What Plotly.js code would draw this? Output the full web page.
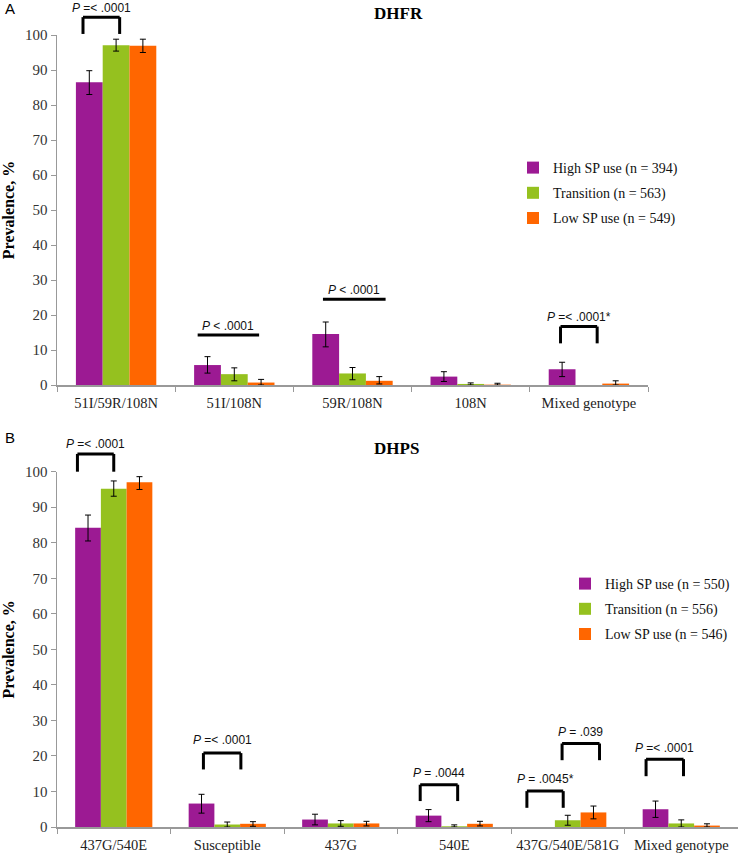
<!DOCTYPE html>
<html>
<head>
<meta charset="utf-8">
<script src="https://cdn.plot.ly/plotly-3.0.1.min.js"></script>
<style>
  html, body { margin: 0; padding: 0; background: #fff; }
  #chart { width: 738px; height: 853px; }
</style>
</head>
<body>
<div id="chart"></div>
<script>
// ---- DHFR (panel A) ----
let dhfrCats = ['51I/59R/108N', '51I/108N', '59R/108N', '108N', 'Mixed genotype'];
let dhfrHigh   = [86.5, 5.7, 14.6, 2.4, 4.5];
let dhfrHighHi = [89.8, 8.1, 18.0, 3.8, 6.5];
let dhfrHighLo = [83.0, 3.4, 10.9, 1.0, 2.4];
let dhfrTrans   = [97.1, 3.1, 3.3, 0.3, null];
let dhfrTransHi = [98.8, 4.9, 5.0, 0.6, null];
let dhfrTransLo = [95.4, 1.2, 1.5, 0.0, null];
let dhfrLow   = [96.9, 0.7, 1.2, 0.1, 0.4];
let dhfrLowHi = [98.8, 1.6, 2.4, 0.5, 1.2];
let dhfrLowLo = [95.0, 0.0, 0.3, 0.0, 0.0];
let dhfrNames = ['High SP use (n = 394)', 'Transition (n = 563)', 'Low SP use (n = 549)'];

// ---- DHPS (panel B) ----
let dhpsCats = ['437G/540E', 'Susceptible', '437G', '540E', '437G/540E/581G', 'Mixed genotype'];
let dhpsHigh   = [84.2, 6.6, 2.1, 3.2, null, 5.0];
let dhpsHighHi = [87.8, 9.2, 3.6, 4.9, null, 7.3];
let dhpsHighLo = [80.5, 3.9, 0.6, 1.5, null, 2.7];
let dhpsTrans   = [95.2, 0.7, 1.0, 0.2, 1.9, 1.0];
let dhpsTransHi = [97.4, 1.4, 1.8, 0.6, 3.3, 2.0];
let dhpsTransLo = [93.1, 0.0, 0.2, 0.0, 0.5, 0.0];
let dhpsLow   = [97.0, 0.9, 1.0, 0.9, 4.1, 0.4];
let dhpsLowHi = [98.6, 1.5, 1.6, 1.6, 5.9, 0.9];
let dhpsLowLo = [95.0, 0.2, 0.3, 0.3, 2.3, 0.0];
let dhpsNames = ['High SP use (n = 550)', 'Transition (n = 556)', 'Low SP use (n = 546)'];

let yTicks = [0, 10, 20, 30, 40, 50, 60, 70, 80, 90, 100];
let yMax = 100;

// significance marks: category index, bracket ends (offset from category centre), height, label
let dhfrMarks = [
    { cat: 0, x0: -0.28, x1: 0.03, y: 105.1, drop: 4.8, label: '<i>P</i> =< .0001', ty: 107.6 },
    { cat: 1, x0: -0.31, x1: 0.21, y: 14.3, drop: 0, label: '<i>P</i> < .0001', ty: 16.9 },
    { cat: 2, x0: -0.25, x1: 0.28, y: 24.5, drop: 0, label: '<i>P</i> < .0001', ty: 27.1 },
    { cat: 4, x0: -0.24, x1: 0.07, y: 16.7, drop: 4.8, label: '<i>P</i> =< .0001*', ty: 19.5 }
];
let dhpsMarks = [
    { cat: 0, x0: -0.32, x1: 0.0, y: 105.0, drop: 5.0, label: '<i>P</i> =< .0001', ty: 107.8 },
    { cat: 1, x0: -0.21, x1: 0.12, y: 20.8, drop: 4.6, label: '<i>P</i> =< .0001', ty: 24.4 },
    { cat: 3, x0: -0.30, x1: 0.03, y: 11.9, drop: 4.6, label: '<i>P</i> = .0044', ty: 15.3 },
    { cat: 4, x0: -0.36, x1: -0.04, y: 10.1, drop: 4.7, label: '<i>P</i> = .0045*', ty: 13.4 },
    { cat: 4, x0: -0.05, x1: 0.28, y: 23.5, drop: 4.7, label: '<i>P</i> = .039', ty: 26.6 },
    { cat: 5, x0: -0.31, x1: 0.02, y: 19.1, drop: 4.8, label: '<i>P</i> =< .0001', ty: 22.2 }
];

let barColors = ['#9C1A93', '#95C11F', '#FF6600'];
let serif = 'Liberation Serif, Times New Roman, serif';
let sans = 'Liberation Sans, Arial, sans-serif';

function barTrace(cats, vals, hi, lo, name, color, xa, ya, legend) {
    return {
        type: 'bar',
        x: cats,
        y: vals,
        name: name,
        xaxis: xa,
        yaxis: ya,
        legend: legend,
        legendgroup: name,
        marker: { color: color, line: { width: 0 } },
        error_y: {
            type: 'data',
            symmetric: false,
            array: vals.map((v, i) => v == null ? null : hi[i] - v),
            arrayminus: vals.map((v, i) => v == null ? null : v - lo[i]),
            color: '#000',
            thickness: 1,
            width: 3
        },
        hoverinfo: 'none'
    };
}

let data = [
    barTrace(dhfrCats, dhfrHigh, dhfrHighHi, dhfrHighLo, dhfrNames[0], barColors[0], 'x', 'y', 'legend'),
    barTrace(dhfrCats, dhfrTrans, dhfrTransHi, dhfrTransLo, dhfrNames[1], barColors[1], 'x', 'y', 'legend'),
    barTrace(dhfrCats, dhfrLow, dhfrLowHi, dhfrLowLo, dhfrNames[2], barColors[2], 'x', 'y', 'legend'),
    barTrace(dhpsCats, dhpsHigh, dhpsHighHi, dhpsHighLo, dhpsNames[0], barColors[0], 'x2', 'y2', 'legend2'),
    barTrace(dhpsCats, dhpsTrans, dhpsTransHi, dhpsTransLo, dhpsNames[1], barColors[1], 'x2', 'y2', 'legend2'),
    barTrace(dhpsCats, dhpsLow, dhpsLowHi, dhpsLowLo, dhpsNames[2], barColors[2], 'x2', 'y2', 'legend2')
];

// pixel -> paper helpers for titles and legends
let ml = 57, mb = 26, plotW = 738 - ml, plotH = 853 - mb;
function px(x) { return (x - ml) / plotW; }
function py(y) { return (plotH - y) / plotH; }

// brackets go above the plot top, so they use the "y domain" reference (value / yMax)
let shapes = [];
let annotations = [];
function addMarks(marks, xa, ya) {
    marks.forEach(m => {
        let line = { color: '#000', width: 3 };
        let a = m.cat + m.x0, b = m.cat + m.x1;
        let top = m.y / yMax, bottom = (m.y - m.drop) / yMax;
        shapes.push({ type: 'line', xref: xa, yref: ya + ' domain', x0: a, x1: b, y0: top, y1: top, line: line });
        if (m.drop > 0) {
            shapes.push({ type: 'line', xref: xa, yref: ya + ' domain', x0: a, x1: a, y0: top, y1: bottom, line: line });
            shapes.push({ type: 'line', xref: xa, yref: ya + ' domain', x0: b, x1: b, y0: top, y1: bottom, line: line });
        }
        annotations.push({
            xref: xa, yref: ya + ' domain',
            x: m.cat + (m.x0 + m.x1) / 2, y: m.ty / yMax,
            xanchor: 'center', yanchor: 'middle',
            text: m.label, showarrow: false,
            font: { family: sans, size: 12, color: '#111' }
        });
    });
}
addMarks(dhfrMarks, 'x', 'y');
addMarks(dhpsMarks, 'x2', 'y2');

let titleFont = { family: serif, size: 17, color: '#000' };
let letterFont = { family: sans, size: 15, color: '#000' };
annotations.push(
    { xref: 'paper', yref: 'paper', x: px(398), y: py(13), xanchor: 'center', yanchor: 'middle', text: '<b>DHFR</b>', showarrow: false, font: titleFont },
    { xref: 'paper', yref: 'paper', x: px(396), y: py(448), xanchor: 'center', yanchor: 'middle', text: '<b>DHPS</b>', showarrow: false, font: titleFont },
    { xref: 'paper', yref: 'paper', x: px(3), y: py(8), xanchor: 'left', yanchor: 'middle', text: 'A', showarrow: false, font: letterFont },
    { xref: 'paper', yref: 'paper', x: px(3), y: py(437), xanchor: 'left', yanchor: 'middle', text: 'B', showarrow: false, font: letterFont }
);

function xAxis(domain, anchor) {
    return {
        domain: domain,
        anchor: anchor,
        type: 'category',
        showline: true,
        linecolor: '#999',
        linewidth: 1.5,
        ticks: 'outside',
        tickson: 'boundaries',
        ticklen: 5,
        tickcolor: '#999',
        showgrid: false,
        zeroline: false,
        ticklabelstandoff: 4,
        tickfont: { family: serif, size: 14.5, color: '#222' },
        fixedrange: true
    };
}
function yAxis(domain, anchor) {
    return {
        domain: domain,
        anchor: anchor,
        range: [0, yMax],
        tickmode: 'array',
        tickvals: yTicks,
        showline: true,
        linecolor: '#999',
        linewidth: 1.5,
        ticks: 'outside',
        ticklen: 5,
        tickcolor: '#999',
        showgrid: false,
        zeroline: false,
        tickfont: { family: serif, size: 15, color: '#333' },
        title: { text: '<b>Prevalence, %</b>', font: { family: serif, size: 16, color: '#000' }, standoff: 6 },
        fixedrange: true
    };
}

let legendBase = {
    xanchor: 'left', yanchor: 'top',
    font: { family: serif, size: 14, color: '#111' },
    bgcolor: 'rgba(0,0,0,0)',
    traceorder: 'grouped',
    tracegroupgap: 4
};

let layout = {
    width: 738,
    height: 853,
    margin: { l: ml, r: 0, t: 0, b: mb },
    paper_bgcolor: '#fff',
    plot_bgcolor: '#fff',
    barmode: 'group',
    bargap: 0.32,
    bargroupgap: 0,
    xaxis: xAxis([0, px(648)], 'y'),
    yaxis: yAxis([py(385), py(35)], 'x'),
    xaxis2: xAxis([0, 1], 'y2'),
    yaxis2: yAxis([py(827), py(471.7)], 'x2'),
    legend: Object.assign({ x: px(513), y: py(152) }, legendBase),
    legend2: Object.assign({ x: px(565), y: py(568) }, legendBase),
    shapes: shapes,
    annotations: annotations
};

Plotly.newPlot('chart', data, layout, { displayModeBar: false, staticPlot: true });
</script>
</body>
</html>
